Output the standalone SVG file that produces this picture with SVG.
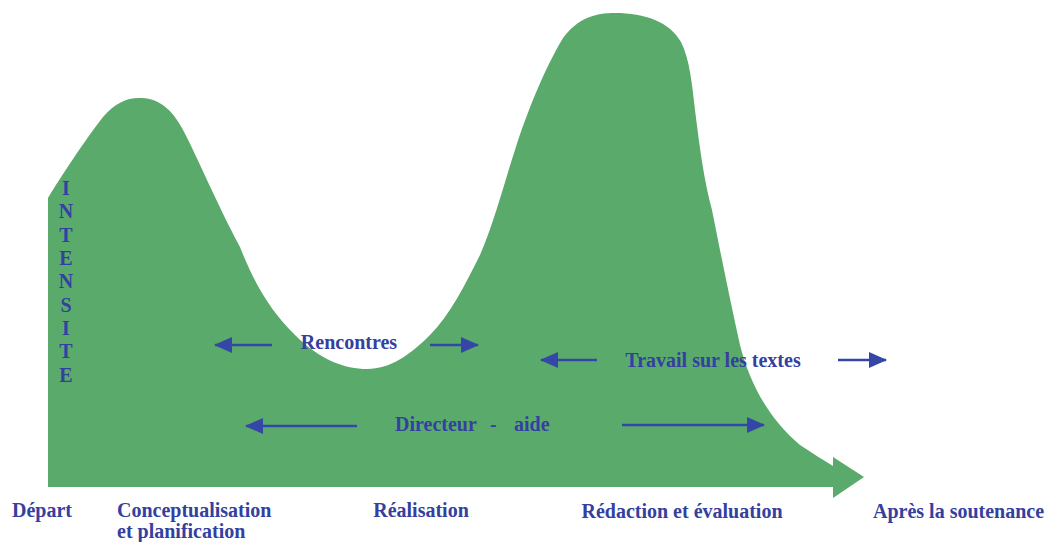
<svg xmlns="http://www.w3.org/2000/svg" width="1051" height="542" viewBox="0 0 1051 542">
<style>
.lbl{font-family:"Liberation Serif","Times New Roman",serif;font-weight:bold;font-size:20px;fill:#3440a0}
.arr{stroke:#3447a6;stroke-width:2.5;fill:none;marker-end:url(#head)}
</style>
<defs>
<marker id="head" markerUnits="userSpaceOnUse" markerWidth="18" markerHeight="16" viewBox="0 0 18 16" refX="17" refY="8" orient="auto">
<path d="M0,0 L18,8 L0,16 Z" fill="#3447a6"/>
</marker>
</defs>
<rect width="1051" height="542" fill="#ffffff"/>
<g id="curve">
<path fill="#5aab6b" d="M48,487 L48,198 C60,178 85,140 103,117 C116,102 128,97 142,98 C160,99 172,110 182,128 C198,158 215,200 240,247 C255,285 270,310 295,335 C320,360 345,369 367,369 C390,369 410,355 430,335 C450,315 465,285 480,255 C495,220 505,180 515,150 C527,112 545,68 563,38 C578,18 595,13 615,13 C645,13 670,22 681,42 C690,60 692,85 695,110 C700,150 704,180 712,210 C722,260 730,300 740,345 C750,385 770,420 800,445 C815,455 825,461 833,466 L833,457 L864,477 L833,498 L833,487 Z"/>
</g>
<g id="axis-label">
<text class="lbl" text-anchor="middle"><tspan x="66" y="195">I</tspan><tspan x="66" y="218">N</tspan><tspan x="66" y="242">T</tspan><tspan x="66" y="265">E</tspan><tspan x="66" y="288">N</tspan><tspan x="66" y="312">S</tspan><tspan x="66" y="335">I</tspan><tspan x="66" y="358">T</tspan><tspan x="66" y="382">E</tspan></text>
</g>
<g id="connectors">
<line class="arr" x1="272" y1="345" x2="215" y2="345"/>
<line class="arr" x1="430" y1="345" x2="478" y2="345"/>
<line class="arr" x1="597" y1="360" x2="541" y2="360"/>
<line class="arr" x1="838" y1="360" x2="886" y2="360"/>
<line class="arr" x1="357" y1="426" x2="246" y2="426"/>
<line class="arr" x1="622" y1="425" x2="764" y2="425"/>
</g>
<g id="rencontres"><text class="lbl" x="349" y="349" text-anchor="middle">Rencontres</text></g>
<g id="travail"><text class="lbl" x="713" y="367" text-anchor="middle">Travail sur les textes</text></g>
<g id="directeur"><text class="lbl" y="431"><tspan x="395">Directeur</tspan><tspan x="490">-</tspan><tspan x="514">aide</tspan></text></g>
<g id="depart"><text class="lbl" x="12" y="517">Départ</text></g>
<g id="conception"><text class="lbl" x="117" y="517">Conceptualisation</text><text class="lbl" x="117" y="538">et planification</text></g>
<g id="realisation"><text class="lbl" x="421" y="517" text-anchor="middle">Réalisation</text></g>
<g id="redaction"><text class="lbl" x="682" y="518" text-anchor="middle">Rédaction et évaluation</text></g>
<g id="apres"><text class="lbl" x="873" y="518">Après la soutenance</text></g>
</svg>
